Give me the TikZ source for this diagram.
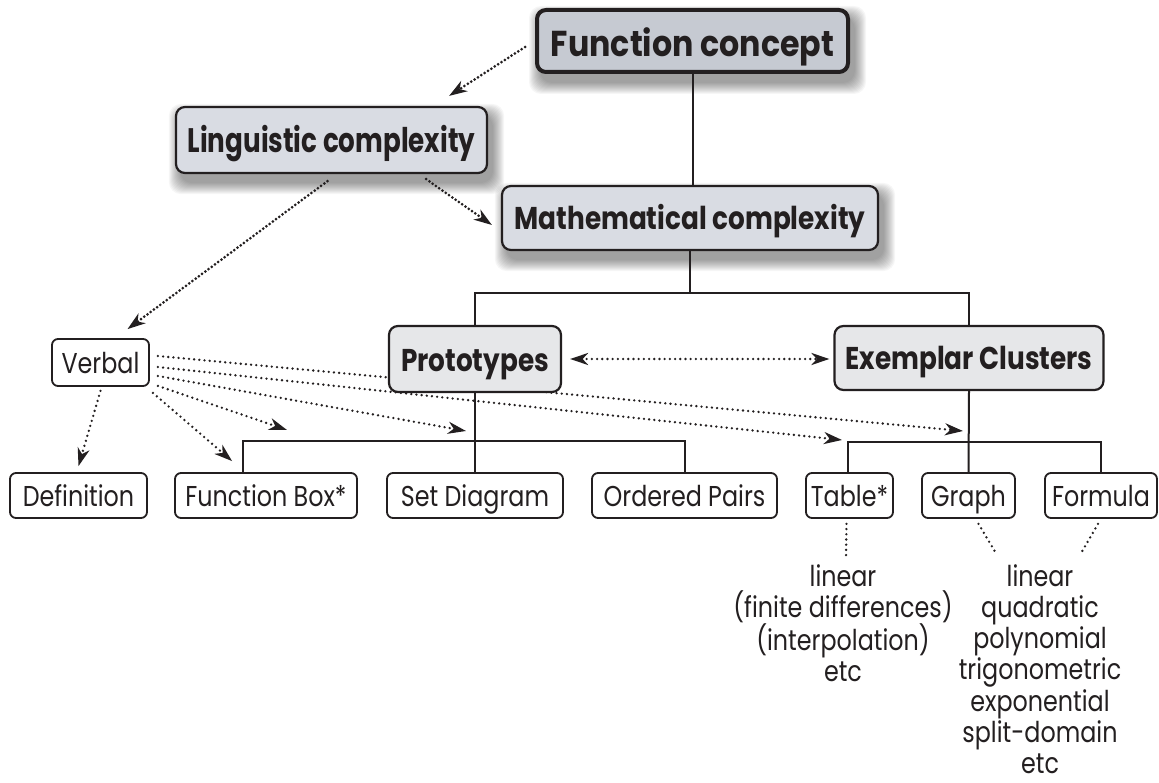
\documentclass[tikz,border=0pt]{standalone}
\usepackage{fontspec}
\newfontfamily\regf[FakeStretch=0.83]{Poppins}
\newfontfamily\boldf[FakeStretch=0.835]{Poppins}
\newfontfamily\boldfc[FakeStretch=0.88]{Poppins}
\newfontfamily\boldfl[FakeStretch=0.77]{Poppins}
\usetikzlibrary{arrows.meta,calc}
\definecolor{ink}{HTML}{231F20}
\definecolor{topfill}{HTML}{C6CAD2}
\definecolor{midfill}{HTML}{D9DCE3}
\definecolor{protofill}{HTML}{E6E7E9}
\pgfdeclarelayer{bg}
\pgfsetlayers{bg,main}
\newcommand\softshadow[1]{%
  \foreach \s in {0,1,...,11}{%
    \fill[black, opacity=0.035, rounded corners=12pt]
      ($(#1.north west)+(5-\s,9-\s)$) rectangle ($(#1.south east)+(5+\s,9+\s)$);}}
\tikzset{
  smallbox/.style={draw=ink, line width=1.8pt, rounded corners=6pt, inner sep=0pt, text=ink, fill=white,
    minimum height=45pt, text height=26pt, text depth=4pt, font=\regf\fontsize{28.7}{32}\selectfont},
  bigbox/.style={draw=ink, line width=2.2pt, rounded corners=9pt, inner sep=0pt, text=ink,
    text height=28pt, text depth=4pt, font=\boldf\bfseries\fontsize{31.5}{34}\selectfont},
  treeline/.style={draw=ink, line width=2pt},
  dotline/.style={draw=ink, line width=2.6pt, dash pattern=on 0pt off 5.2pt, line cap=round},
  densedot/.style={draw=ink, line width=3pt, dash pattern=on 0pt off 4pt, line cap=round},
  arrowhd/.style={-{Stealth[length=18pt,width=12pt,inset=5.5pt]}},
  listtext/.style={inner sep=0pt, align=center, text=ink, font=\regf\fontsize{28.7}{31.3}\selectfont, anchor=north},
}
\begin{document}
\begin{tikzpicture}[x=1pt,y=-1pt]
\useasboundingbox (0,0) rectangle (1159,783);
% main boxes
\node[bigbox, fill=topfill, line width=4pt, minimum width=311pt, minimum height=62pt,
  text height=34pt, text depth=2pt,
  font=\boldfc\bfseries\fontsize{36}{38}\selectfont] (fc) at (692.5,41) {Function concept};
\node[bigbox, fill=midfill, minimum width=311pt, minimum height=66pt,
  text height=30pt, text depth=4.5pt,
  font=\boldfl\bfseries\fontsize{34}{36}\selectfont] (ling) at (331.5,140) {Linguistic complexity};
\node[bigbox, fill=midfill, minimum width=376pt, minimum height=64pt] (math) at (690,218) {Mathematical complexity};
\node[bigbox, fill=protofill, minimum width=172pt, minimum height=66pt] (proto) at (475,359) {Prototypes};
\node[bigbox, fill=protofill, minimum width=269pt, minimum height=64pt] (ex) at (969,358) {Exemplar Clusters};
% small boxes
\node[smallbox, minimum width=97pt, minimum height=47pt] (verbal) at (100.5,362.5) {Verbal};
\node[smallbox, minimum width=137pt] (def) at (78.5,495.5) {Definition};
\node[smallbox, minimum width=182pt] (fbox) at (266,495.5) {Function Box*};
\node[smallbox, minimum width=176pt] (sd) at (475,495.5) {Set Diagram};
\node[smallbox, minimum width=185pt] (op) at (684.5,495.5) {Ordered Pairs};
\node[smallbox, minimum width=87pt] (table) at (849.5,495.5) {Table*};
\node[smallbox, minimum width=93pt] (graph) at (968.5,495.5) {Graph};
\node[smallbox, minimum width=112pt] (formula) at (1101,495.5) {Formula};
% lists
\node[listtext] (ltext) at (843,564) {linear\\(finite differences)\\(interpolation)\\etc};
\node[listtext] (rtext) at (1040,564) {linear\\quadratic\\polynomial\\trigonometric\\exponential\\split-domain\\etc};
% junctions
\coordinate (j1) at (690,293);
\coordinate (j2) at (475,441);
\coordinate (fbj) at (243,441);
\coordinate (j3) at (969,442);
\coordinate (tbj) at (848,442);
\coordinate (tl) at (846,558);
\coordinate (gl) at (997,555);
\coordinate (fl) at (1080,555);
\begin{pgfonlayer}{bg}
\fill[white] (0,0) rectangle (1159,783);
\softshadow{fc}
\softshadow{ling}
\softshadow{math}
% tree
\draw[treeline] (fc.south) -- (fc.south |- math.north);
\draw[treeline] (math.south) -- (j1);
\draw[treeline] (proto.north) -- (proto.north |- j1) -- (j1 -| ex.north) -- (ex.north);
\draw[treeline] (proto.south) -- (sd.north);
\draw[treeline] (fbox.north -| fbj) -- (fbj) -- (j2 -| op.north) -- (op.north);
\draw[treeline] (ex.south) -- (graph.north);
\draw[treeline] (table.north -| tbj) -- (tbj) -- (j3 -| formula.north) -- (formula.north);
% dotted arrows
\draw[densedot, arrowhd] ($(fc.west)+(-10,6)$) -- ($(ling.north east)+(-39,-10)$);
\draw[densedot, arrowhd] ($(ling.south east)+(-62,5)$) -- ($(math.west)+(-9,7)$);
\draw[densedot, arrowhd] ($(ling.south)+(-4,7)$) -- ($(verbal.north)+(27,-9)$);
\draw[dotline, {Stealth[length=18pt,width=12pt,inset=5.5pt]}-{Stealth[length=18pt,width=12pt,inset=5.5pt]}, shorten <=8pt, shorten >=4pt] (proto.east) -- (proto.east -| ex.west);
\draw[dotline, arrowhd] ($(verbal.south)+(0,4)$) -- ($(def.north)+(0,-6)$);
\draw[dotline, arrowhd] ($(verbal.south east)+(3,6)$) -- ($(fbox.north west)+(58,-11)$);
\draw[dotline, arrowhd] ($(verbal.south east)+(8,-1)$) -- ($(fbj)+(44,-11)$);
\draw[dotline, arrowhd] ($(verbal.east)+(8,13.5)$) -- ($(j2)+(-9,-10)$);
\draw[dotline, arrowhd] ($(verbal.east)+(8,4.5)$) -- ($(tbj)+(-6,-2)$);
\draw[dotline, arrowhd] ($(verbal.east)+(8,-6.5)$) -- ($(j3)+(-6,-11)$);
% list connectors
\draw[dotline] ($(table.south)+(-3,5)$) -- (tl);
\draw[dotline] ($(graph.south)+(10,5)$) -- (gl);
\draw[dotline] ($(formula.south)+(-3,5)$) -- (fl);
\end{pgfonlayer}
\end{tikzpicture}
\end{document}
